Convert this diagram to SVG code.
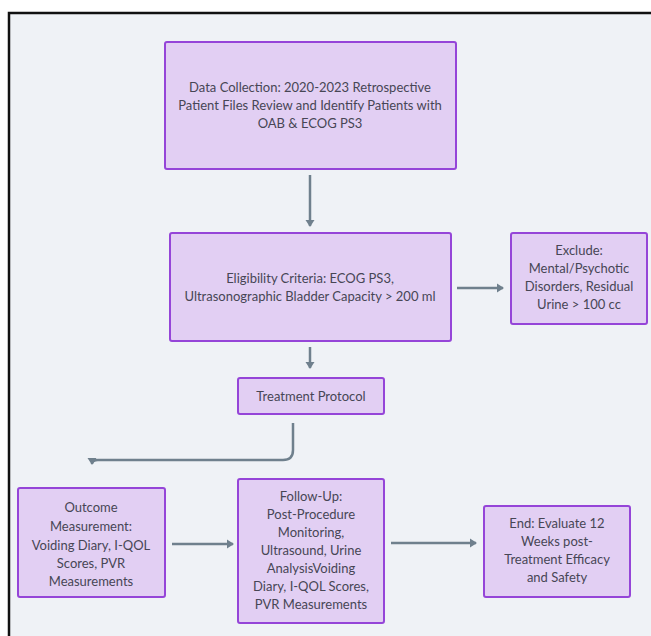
<svg xmlns="http://www.w3.org/2000/svg" width="651" height="636" viewBox="0 0 651 636">
<style>
.n{fill:#e2cff3;stroke:#9545d8;stroke-width:2}
.t{font-family:Lato,"Liberation Sans",sans-serif;font-size:13px;fill:#474655;text-anchor:middle}
.c{fill:none;stroke:#6f808d;stroke-width:2.5}
</style>
<defs>
<marker id="a" markerWidth="10" markerHeight="10" refX="6" refY="5" orient="auto" markerUnits="userSpaceOnUse">
<path d="M0,0.5 L7,5 L0,9.5 Z" fill="#6f808d"/>
</marker>
</defs>
<rect x="0" y="0" width="651" height="636" fill="#ffffff"/>
<rect x="9" y="13" width="660" height="640" fill="#eff2f6" stroke="#111" stroke-width="2.5"/>
<g id="connectors">
<path class="c" d="M310,175 V226" marker-end="url(#a)"/>
<path class="c" d="M457,288 H503" marker-end="url(#a)"/>
<path class="c" d="M310,347 V368" marker-end="url(#a)"/>
<path class="c" d="M293,423 V450 Q293,460 283,460 H98 Q92,460 92,464" marker-end="url(#a)"/>
<path class="c" d="M172,544 H233" marker-end="url(#a)"/>
<path class="c" d="M391,543 H476" marker-end="url(#a)"/>
</g>
<g id="n1"><rect class="n" x="165" y="42" width="291" height="127" rx="2"/>
<text class="t" x="310" y="92">Data Collection: 2020-2023 Retrospective</text>
<text class="t" x="310" y="110">Patient Files Review and Identify Patients with</text>
<text class="t" x="310" y="128">OAB &amp; ECOG PS3</text></g>
<g id="n2"><rect class="n" x="170" y="233" width="281" height="108" rx="2"/>
<text class="t" x="310" y="283">Eligibility Criteria: ECOG PS3,</text>
<text class="t" x="310" y="301">Ultrasonographic Bladder Capacity &gt; 200 ml</text></g>
<g id="n3"><rect class="n" x="511" y="233" width="136" height="91" rx="2"/>
<text class="t" x="579" y="255">Exclude:</text>
<text class="t" x="579" y="273">Mental/Psychotic</text>
<text class="t" x="579" y="291">Disorders, Residual</text>
<text class="t" x="579" y="309">Urine &gt; 100 cc</text></g>
<g id="n4"><rect class="n" x="238" y="378" width="146" height="36" rx="2"/>
<text class="t" x="311" y="401">Treatment Protocol</text></g>
<g id="n5"><rect class="n" x="18" y="488" width="147" height="109" rx="2"/>
<text class="t" x="91" y="512">Outcome</text>
<text class="t" x="91" y="531">Measurement:</text>
<text class="t" x="91" y="550">Voiding Diary, I-QOL</text>
<text class="t" x="91" y="568">Scores, PVR</text>
<text class="t" x="91" y="586">Measurements</text></g>
<g id="n6"><rect class="n" x="238" y="479" width="146" height="144" rx="2"/>
<text class="t" x="311" y="501">Follow-Up:</text>
<text class="t" x="311" y="519">Post-Procedure</text>
<text class="t" x="311" y="537">Monitoring,</text>
<text class="t" x="311" y="555">Ultrasound, Urine</text>
<text class="t" x="311" y="573">AnalysisVoiding</text>
<text class="t" x="311" y="591">Diary, I-QOL Scores,</text>
<text class="t" x="311" y="609">PVR Measurements</text></g>
<g id="n7"><rect class="n" x="484" y="506" width="146" height="91" rx="2"/>
<text class="t" x="557" y="528">End: Evaluate 12</text>
<text class="t" x="557" y="546">Weeks post-</text>
<text class="t" x="557" y="564">Treatment Efficacy</text>
<text class="t" x="557" y="582">and Safety</text></g>
</svg>
